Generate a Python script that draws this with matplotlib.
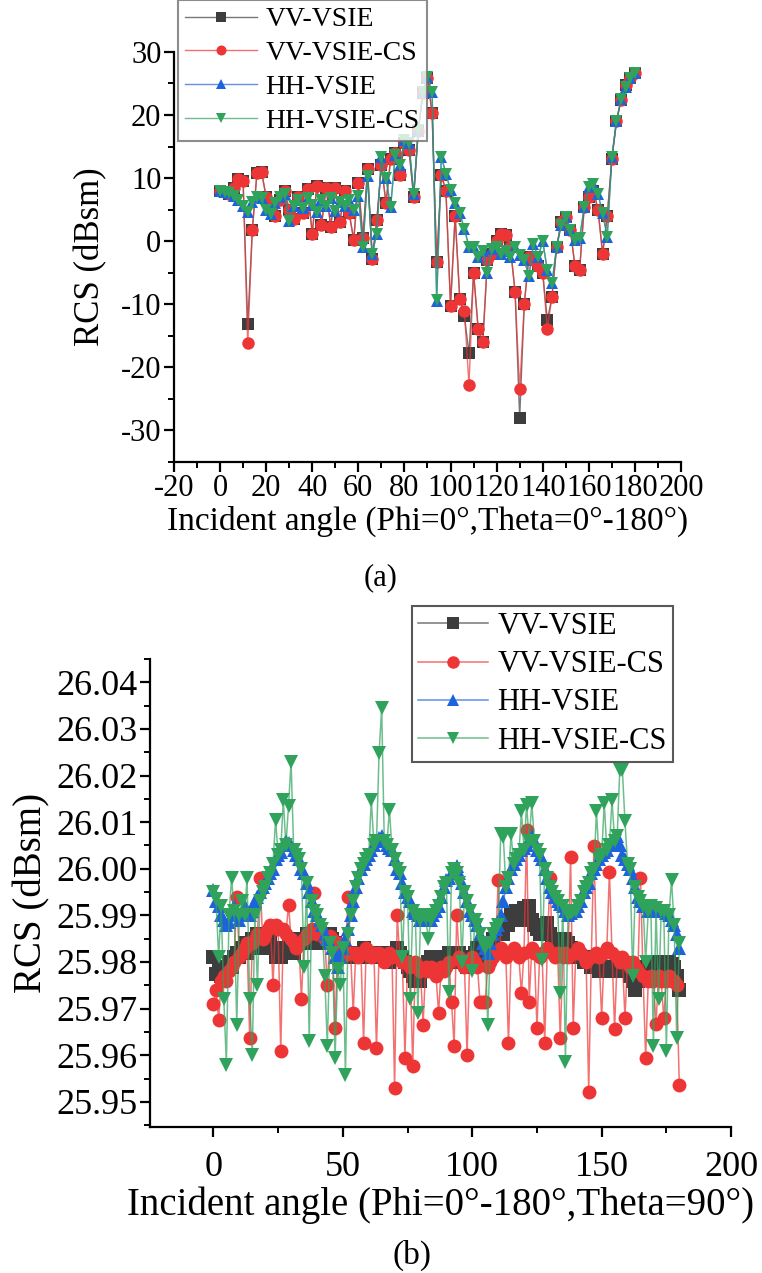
import numpy as np
import matplotlib
matplotlib.use("Agg")
import matplotlib.pyplot as plt
from matplotlib.colors import to_rgba
from matplotlib.ticker import MultipleLocator

plt.rcParams['font.family'] = ['Liberation Serif', 'DejaVu Serif']
plt.rcParams['axes.unicode_minus'] = False

# ---------------- data, panel (a): Phi=0, Theta=0..180 (2 deg step) -------------
theta_a = np.arange(0, 181, 2)

vv_a = [8.0, 7.8, 7.5, 8.5, 9.8, 9.5, -13.2, 1.8, 10.8, 11.0,
        7.0, 5.5, 4.0, 6.5, 8.0, 5.0, 3.5, 7.0, 4.5, 8.2,
        1.2, 8.8, 2.5, 8.5, 2.3, 8.4, 3.0, 8.0, 4.5, 0.2,
        9.2, 0.5, 11.5, -2.8, 3.3, 12.0, 6.0, 13.0, 14.0, 10.5,
        15.5, 14.5, 7.0, 17.5, 23.5, 25.8, 20.3, -3.3, 10.5, 8.0,
        -10.2, 4.0, -9.1, -11.8, -17.8, -5.0, -13.9, -16.0, -3.0, -2.0,
        0.0, 1.2, 1.0, -1.0, -8.0, -28.0, -10.0, -2.5, -3.0, -4.0,
        -5.0, -12.5, -8.9, -1.0, 3.0, 3.9, 1.8, -4.0, -4.6, 5.4,
        7.0, 8.0, 5.0, -2.0, 4.0, 13.0, 19.0, 22.4, 24.8, 25.9,
        26.6]

vv_cs_a = [8.0, 7.8, 7.5, 8.5, 9.8, 9.5, -16.2, 1.8, 10.8, 11.0,
           7.0, 5.5, 4.0, 6.5, 8.0, 5.0, 3.5, 7.0, 4.5, 8.2,
           1.2, 8.8, 2.5, 8.5, 2.3, 8.4, 3.0, 8.0, 4.5, 0.2,
           9.2, 0.5, 11.5, -2.8, 3.3, 12.0, 6.0, 13.0, 14.0, 10.5,
           15.5, 14.5, 7.0, 17.5, 23.5, 25.8, 20.3, -3.3, 10.5, 8.0,
           -10.2, 4.0, -9.1, -11.0, -22.8, -5.0, -13.9, -16.0, -3.0, -2.0,
           0.0, 1.2, 1.0, -1.0, -8.0, -23.5, -10.0, -2.5, -3.0, -4.0,
           -5.0, -13.9, -8.9, -1.0, 3.0, 3.9, 1.8, -4.0, -4.6, 5.4,
           7.0, 8.0, 5.0, -2.0, 4.0, 13.0, 19.0, 22.4, 24.8, 25.9,
           26.6]

hh_a = [8.0, 7.8, 7.6, 7.2, 6.5, 5.6, 4.7, 6.2, 7.0, 6.8,
        5.0, 4.3, 6.0, 7.0, 7.5, 3.2, 5.5, 6.5, 5.2, 6.8,
        5.8, 4.6, 6.5, 5.5, 6.8, 4.8, 6.2, 5.5, 6.5, 5.0,
        7.2, -0.9, 10.3, -2.0, 1.2, 13.4, 10.0, 5.4, 13.6, 12.0,
        16.0, 15.5, 7.5, 17.6, 23.7, 26.0, 23.7, -9.5, 13.4, 10.7,
        8.1, 6.0, 4.4, 2.0, -0.9, -1.0, -2.5, -1.5, -5.0, -1.2,
        -1.0, -2.0, -1.5, -2.5, -1.0, -2.2, -3.0, -5.5, -0.5, -2.5,
        0.0, -4.6, -6.7, -1.0, 2.5, 3.9, 1.8, 0.2, 0.5, 5.4,
        8.6, 9.0, 7.5, 4.4, 0.7, 13.4, 19.0, 22.6, 24.5, 25.8,
        26.6]

hh_cs_a = [8.0, 7.8, 7.6, 7.2, 6.5, 5.6, 4.7, 6.2, 7.0, 6.8,
           5.0, 4.3, 6.0, 7.0, 7.5, 3.2, 5.5, 6.5, 5.2, 6.8,
           5.8, 4.6, 6.5, 5.5, 6.8, 4.8, 6.2, 5.5, 6.5, 5.0,
           7.2, -1.0, 10.3, -2.0, 1.2, 13.4, 10.0, 5.4, 13.6, 12.0,
           16.0, 15.5, 7.5, 17.6, 23.7, 26.0, 23.7, -9.4, 13.4, 10.7,
           8.1, 6.0, 4.4, 2.0, -0.9, -1.0, -2.5, -1.5, -5.0, -1.2,
           -1.0, -2.0, -1.5, -2.5, -1.0, -2.2, -3.0, -5.5, -0.5, -2.5,
           0.0, -4.6, -6.7, -1.0, 2.5, 3.9, 1.8, 0.2, 0.5, 5.4,
           8.6, 9.0, 7.5, 4.4, 0.7, 13.4, 19.0, 22.6, 24.5, 25.8,
           26.6]

# ---------------- data, panel (b): Theta=90, Phi=0..180 (1 deg step) -------------
phi_b = np.arange(0, 181, 1)

vv_b = [25.981, 25.9775, 25.978, 25.977, 25.978, 25.979, 25.980, 25.979, 25.981, 25.982,
        25.981, 25.983, 25.984, 25.982, 25.983, 25.985, 25.984, 25.986, 25.985, 25.983,
        25.985, 25.986, 25.985, 25.983, 25.981, 25.982, 25.981, 25.982, 25.983, 25.984,
        25.983, 25.982, 25.984, 25.985, 25.984, 25.985, 25.986, 25.985, 25.984, 25.985,
        25.986, 25.985, 25.984, 25.986, 25.985, 25.986, 25.985, 25.984, 25.9835, 25.983,
        25.982, 25.981, 25.9815, 25.982, 25.981, 25.9815, 25.982, 25.982, 25.983, 25.982,
        25.981, 25.982, 25.981, 25.9815, 25.982, 25.981, 25.982, 25.981, 25.980, 25.981,
        25.982, 25.983, 25.982, 25.981, 25.980, 25.979, 25.978, 25.977, 25.976, 25.977,
        25.976, 25.978, 25.979, 25.980, 25.981, 25.980, 25.979, 25.980, 25.981, 25.980,
        25.981, 25.982, 25.981, 25.980, 25.981, 25.982, 25.981, 25.980, 25.979, 25.980,
        25.981, 25.982, 25.983, 25.982, 25.981, 25.980, 25.981, 25.983, 25.985, 25.986,
        25.987, 25.988, 25.986, 25.989, 25.988, 25.990, 25.989, 25.991, 25.990, 25.989,
        25.9915, 25.990, 25.992, 25.989, 25.988, 25.987, 25.986, 25.987, 25.988, 25.9883,
        25.986, 25.985, 25.984, 25.985, 25.983, 25.984, 25.985, 25.984, 25.983, 25.982,
        25.981, 25.982, 25.981, 25.980, 25.981, 25.980, 25.979, 25.980, 25.979, 25.978,
        25.979, 25.978, 25.979, 25.9785, 25.978, 25.979, 25.980, 25.979, 25.978, 25.979,
        25.978, 25.977, 25.976, 25.974, 25.976, 25.977, 25.978, 25.979, 25.980, 25.979,
        25.978, 25.979, 25.980, 25.979, 25.978, 25.979, 25.980, 25.9795, 25.979, 25.977,
        25.974]

vv_cs_b = [25.971, 25.974, 25.9676, 25.976, 25.977, 25.976, 25.978, 25.979, 25.980, 25.994,
           25.981, 25.982, 25.983, 25.984, 25.9637, 25.984, 25.985, 25.986, 25.998, 25.985,
           25.986, 25.987, 25.988, 25.975, 25.988, 25.987, 25.9608, 25.987, 25.986, 25.9923,
           25.985, 25.984, 25.983, 25.984, 25.972, 25.985, 25.986, 25.986, 25.987, 25.9948,
           25.986, 25.987, 25.986, 25.985, 25.975, 25.9855, 25.985, 25.9658, 25.984, 25.983,
           25.982, 25.9815, 25.994, 25.982, 25.969, 25.982, 25.981, 25.982, 25.9626, 25.983,
           25.982, 25.981, 25.982, 25.9615, 25.982, 25.981, 25.980, 25.981, 25.982, 25.981,
           25.953, 25.990, 25.981, 25.980, 25.9594, 25.980, 25.979, 25.9576, 25.980, 25.979,
           25.978, 25.9665, 25.979, 25.978, 25.979, 25.978, 25.977, 25.969, 25.979, 25.978,
           25.979, 25.980, 25.9715, 25.9619, 25.990, 25.981, 25.980, 25.979, 25.960, 25.980,
           25.981, 25.980, 25.979, 25.9715, 25.9715, 25.9715, 25.979, 25.980, 25.981, 25.982,
           25.9976, 25.983, 25.982, 25.981, 25.9626, 25.982, 25.983, 25.982, 25.981, 25.9734,
           25.982, 26.0084, 25.9715, 25.983, 25.982, 25.9658, 25.981, 25.982, 25.9626, 25.983,
           25.998, 25.982, 25.981, 25.982, 25.9637, 25.981, 25.982, 25.981, 26.0026, 25.9658,
           25.982, 25.983, 25.982, 25.981, 25.980, 25.9522, 25.981, 26.0048, 25.982, 25.981,
           25.968, 25.982, 25.983, 25.9994, 25.982, 25.9656, 25.981, 25.980, 25.981, 25.968,
           25.980, 25.979, 25.980, 25.979, 25.978, 25.998, 25.977, 25.9594, 25.976, 25.977,
           25.976, 25.9667, 25.977, 25.976, 25.968, 25.976, 25.977, 25.976, 25.976, 25.975,
           25.9536]

hh_b = [25.9955, 25.993, 25.992, 25.990, 25.989, 25.988, 25.9885, 25.990, 25.992, 25.991,
        25.989, 25.990, 25.992, 25.991, 25.990, 25.991, 25.993, 25.994, 25.995, 25.996,
        25.997, 25.998, 25.999, 26.000, 26.002, 26.003, 26.0035, 26.005, 26.006, 26.0055,
        26.005, 26.004, 26.003, 26.002, 26.000, 25.999, 25.997, 25.995, 25.993, 25.991,
        25.990, 25.989, 25.988, 25.986, 25.985, 25.984, 25.983, 25.981, 25.979, 25.981,
        25.983, 25.985, 25.987, 25.990, 25.993, 25.996, 25.998, 26.000, 26.001, 26.002,
        26.003, 26.004, 26.005, 26.006, 26.0065, 26.007, 26.006, 26.005, 26.0045, 26.004,
        26.002, 26.000, 25.999, 25.997, 25.995, 25.994, 25.993, 25.991, 25.9905, 25.990,
        25.989, 25.9895, 25.990, 25.989, 25.989, 25.990, 25.991, 25.992, 25.994, 25.996,
        25.9975, 25.998, 25.999, 26.000, 26.0005, 25.999, 25.997, 25.995, 25.993, 25.991,
        25.990, 25.989, 25.988, 25.986, 25.984, 25.983, 25.982, 25.984, 25.986, 25.987,
        25.988, 25.990, 25.993, 25.996, 25.998, 26.000, 26.001, 26.002, 26.003, 26.004,
        26.0045, 26.005, 26.006, 26.007, 26.006, 26.004, 26.003, 26.002, 26.000, 25.998,
        25.996, 25.995, 25.994, 25.993, 25.9925, 25.992, 25.991, 25.990, 25.9905, 25.991,
        25.991, 25.992, 25.993, 25.995, 25.996, 25.997, 25.999, 26.000, 26.001, 26.002,
        26.003, 26.0035, 26.004, 26.005, 26.005, 26.006, 26.007, 26.005, 26.003, 26.002,
        26.001, 26.000, 25.998, 25.996, 25.994, 25.993, 25.992, 25.992, 25.991, 25.992,
        25.992, 25.9915, 25.991, 25.991, 25.991, 25.9905, 25.990, 25.989, 25.988, 25.986,
        25.983]

hh_cs_b = [25.995, 25.9935, 25.981, 25.992, 25.972, 25.958, 25.990, 25.998, 25.991, 25.9665,
           25.990, 25.993, 25.990, 25.998, 25.972, 25.960, 25.990, 25.975, 25.993, 25.995,
           25.996, 25.998, 25.999, 26.001, 26.0105, 26.003, 26.004, 26.0148, 26.005, 26.0134,
           26.023, 26.004, 26.003, 26.002, 26.000, 25.979, 25.997, 25.963, 25.993, 25.991,
           25.990, 25.988, 25.987, 25.977, 25.962, 25.984, 25.982, 25.9594, 25.9785, 25.975,
           25.983, 25.9558, 25.986, 25.990, 25.993, 25.996, 25.998, 26.000, 26.001, 26.002,
           26.003, 26.0148, 26.005, 26.006, 26.0248, 26.0345, 26.006, 26.005, 26.0127, 26.004,
           26.002, 26.000, 25.999, 25.981, 25.995, 25.994, 25.972, 25.991, 25.990, 25.969,
           25.989, 25.990, 25.9895, 25.985, 25.989, 25.990, 25.991, 25.992, 25.994, 25.996,
           25.997, 25.9735, 25.999, 26.000, 25.999, 25.997, 25.980, 25.995, 25.993, 25.991,
           25.978, 25.989, 25.988, 25.986, 25.984, 25.983, 25.9665, 25.984, 25.986, 25.987,
           25.988, 26.0075, 26.0069, 25.996, 25.998, 26.0075, 26.001, 26.002, 26.003, 26.0123,
           26.004, 26.0137, 26.006, 26.0141, 26.006, 26.004, 26.003, 25.9805, 26.000, 25.998,
           25.996, 25.995, 25.994, 25.993, 25.9734, 25.992, 25.9586, 25.990, 25.9905, 25.991,
           25.991, 25.992, 25.993, 25.995, 25.996, 25.997, 25.999, 26.000, 26.0123, 26.002,
           26.003, 26.0141, 26.004, 26.005, 26.0148, 26.006, 26.007, 26.0212, 26.0212, 26.0102,
           26.001, 26.000, 25.977, 25.996, 25.994, 25.993, 25.992, 25.980, 25.991, 25.992,
           25.9619, 25.9915, 25.972, 25.991, 25.991, 25.961, 25.990, 25.9976, 25.988, 25.9637,
           25.984]

labels = ['VV-VSIE', 'VV-VSIE-CS', 'HH-VSIE', 'HH-VSIE-CS']
colors = ['#3d3d3d', '#ee3535', '#1c63dc', '#2fa35c']
markers = ['s', 'o', '^', 'v']


def draw_series(ax, x, series, ms, lw):
    for y, lab, c, m in zip(series, labels, colors, markers):
        ax.plot(x, y, color=to_rgba(c, 0.7), lw=lw, marker=m, ms=ms,
                markerfacecolor=c, markeredgecolor=c, markeredgewidth=0, label=lab)


def style_axes(ax, tick_fs):
    for s in ['top', 'right']:
        ax.spines[s].set_visible(False)
    for s in ['left', 'bottom']:
        ax.spines[s].set_linewidth(1.6)
    ax.tick_params(which='major', direction='out', length=7, width=1.6,
                   labelsize=tick_fs, pad=2)
    ax.tick_params(which='minor', direction='out', length=4, width=1.4)


fig = plt.figure(figsize=(7.62, 12.73), dpi=100)

# ---------------- panel (a) ----------------
ax1 = fig.add_axes([0.2283, 0.6371, 0.6654, 0.3221])
draw_series(ax1, theta_a, [vv_a, vv_cs_a, hh_a, hh_cs_a], ms=9, lw=1.0)
ax1.set_xlim(-20, 200)
ax1.set_ylim(-35, 30)
ax1.xaxis.set_major_locator(MultipleLocator(20))
ax1.xaxis.set_minor_locator(MultipleLocator(10))
ax1.yaxis.set_major_locator(MultipleLocator(10))
ax1.yaxis.set_minor_locator(MultipleLocator(5))
style_axes(ax1, 22)
ax1.set_xlabel('Incident angle (Phi=0°,Theta=0°-180°)', fontsize=24, labelpad=2)
ax1.set_ylabel('RCS (dBsm)', fontsize=25, labelpad=10)
leg1 = ax1.legend(loc='upper left', bbox_to_anchor=(0.2336, 1.0),
                  bbox_transform=fig.transFigure, fontsize=20, frameon=True,
                  fancybox=False, borderpad=0.25, labelspacing=0.3,
                  handlelength=2.6, handletextpad=0.3, borderaxespad=0,
                  markerscale=0.8)
leg1.get_frame().set_edgecolor('#707070')
leg1.get_frame().set_linewidth(1.5)
fig.text(0.5, 1 - 578 / 1273, '(a)', ha='center', va='center', fontsize=22)

# ---------------- panel (b) ----------------
ax2 = fig.add_axes([0.1969, 0.1147, 0.7625, 0.3676])
draw_series(ax2, phi_b, [vv_b, vv_cs_b, hh_b, hh_cs_b], ms=10, lw=1.1)
ax2.set_xlim(-24.5, 200)
ax2.set_ylim(25.9446, 26.045)
ax2.xaxis.set_major_locator(MultipleLocator(50))
ax2.xaxis.set_minor_locator(MultipleLocator(25))
ax2.yaxis.set_major_locator(MultipleLocator(0.01))
ax2.yaxis.set_minor_locator(MultipleLocator(0.005))
ax2.yaxis.set_major_formatter(plt.FormatStrFormatter('%.2f'))
style_axes(ax2, 26)
ax2.tick_params(axis='x', which='major', pad=10)
ax2.set_xlabel('Incident angle (Phi=0°-180°,Theta=90°)', fontsize=28, labelpad=2)
ax2.set_ylabel('RCS (dBsm)', fontsize=28, labelpad=4)
leg2 = ax2.legend(loc='upper left', bbox_to_anchor=(0.5407, 0.524),
                  bbox_transform=fig.transFigure, fontsize=22, frameon=True,
                  fancybox=False, borderpad=0.2, labelspacing=0.3,
                  handlelength=2.3, handletextpad=0.3, borderaxespad=0,
                  markerscale=0.9)
leg2.get_frame().set_edgecolor('#303030')
leg2.get_frame().set_linewidth(1.5)
fig.text(412 / 762, 1 - 1255 / 1273, '(b)', ha='center', va='center', fontsize=24)

fig.savefig('out.png', dpi=100)
